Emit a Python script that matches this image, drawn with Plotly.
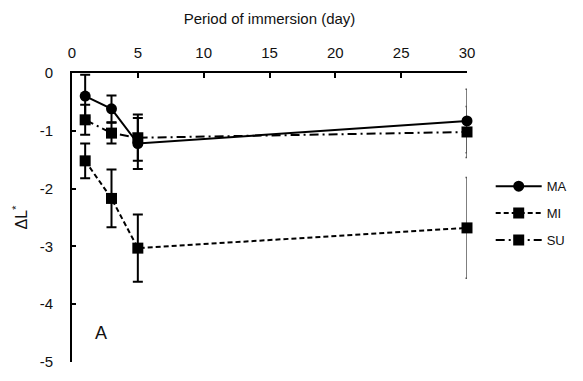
import plotly.graph_objects as go

# Period of immersion (days) and colour change ΔL* (mean ± SD) per group
days = [1, 3, 5, 30]
ma_mean = [-0.40, -0.62, -1.22, -0.83]
ma_sd = [0.37, 0.23, 0.44, 0.55]
mi_mean = [-1.52, -2.17, -3.03, -2.68]
mi_sd = [0.30, 0.50, 0.58, 0.87]
su_mean = [-0.81, -1.04, -1.12, -1.02]
su_sd = [0.26, 0.18, 0.40, 0.44]

x_ticks = [0, 5, 10, 15, 20, 25, 30]
y_ticks = [0, -1, -2, -3, -4, -5]

series = [
    ("MA", ma_mean, ma_sd, "circle", "solid"),
    ("MI", mi_mean, mi_sd, "square", "5px,3px"),
    ("SU", su_mean, su_sd, "square", "9px,4px,2px,4px"),
]

FONT = "Liberation Sans, Arial, sans-serif"
fig = go.Figure()

for name, mean, sd, symbol, dash in series:
    # early time points: wide caps
    fig.add_trace(go.Scatter(
        x=days[:3], y=mean[:3], mode="markers", showlegend=False,
        marker=dict(size=0.1, color="black"),
        error_y=dict(type="data", array=sd[:3], visible=True,
                     color="black", thickness=2, width=5),
        cliponaxis=False, hoverinfo="skip",
    ))
    # last time point: thin bar with short caps
    fig.add_trace(go.Scatter(
        x=days[3:], y=mean[3:], mode="markers", showlegend=False,
        marker=dict(size=0.1, color="#555"),
        error_y=dict(type="data", array=sd[3:], visible=True,
                     color="#555", thickness=1.5, width=1.5),
        cliponaxis=False, hoverinfo="skip",
    ))

for name, mean, sd, symbol, dash in series:
    fig.add_trace(go.Scatter(
        x=days, y=mean, name=name, mode="lines+markers",
        legendgroup=name,
        line=dict(color="black", width=2, dash=dash),
        marker=dict(symbol=symbol, size=11, color="black"),
        cliponaxis=False,
    ))

fig.add_annotation(x=2.2, y=-4.5, text="A", showarrow=False,
                   font=dict(size=18, color="#111", family=FONT))

fig.update_layout(
    width=583, height=381,
    margin=dict(l=72, r=111, t=73, b=11),
    plot_bgcolor="white", paper_bgcolor="white",
    font=dict(family=FONT, size=15, color="#111"),
    showlegend=True,
    legend=dict(x=1.06, y=0.66, xanchor="left", yanchor="top",
                font=dict(size=13), itemwidth=46,
                traceorder="grouped", tracegroupgap=7,
                bgcolor="rgba(0,0,0,0)"),
    xaxis=dict(
        side="top", range=[0, 30], tickvals=x_ticks,
        showline=True, linecolor="black", linewidth=2,
        ticks="inside", ticklen=5, tickwidth=1.5, tickcolor="black",
        showgrid=False, zeroline=False, ticklabelstandoff=7,
        title=dict(text="Period of immersion (day)", standoff=16,
                   font=dict(size=15)),
    ),
    yaxis=dict(
        range=[-5, 0], tickvals=y_ticks,
        ticktext=[str(v) for v in y_ticks],
        showline=True, linecolor="black", linewidth=2,
        ticks="inside", ticklen=4, tickwidth=1.5, tickcolor="black",
        showgrid=False, zeroline=False, ticklabelstandoff=14,
        title=dict(text="ΔL<sup>*</sup>", standoff=8, font=dict(size=16)),
    ),
)

fig.write_html("out.html")
